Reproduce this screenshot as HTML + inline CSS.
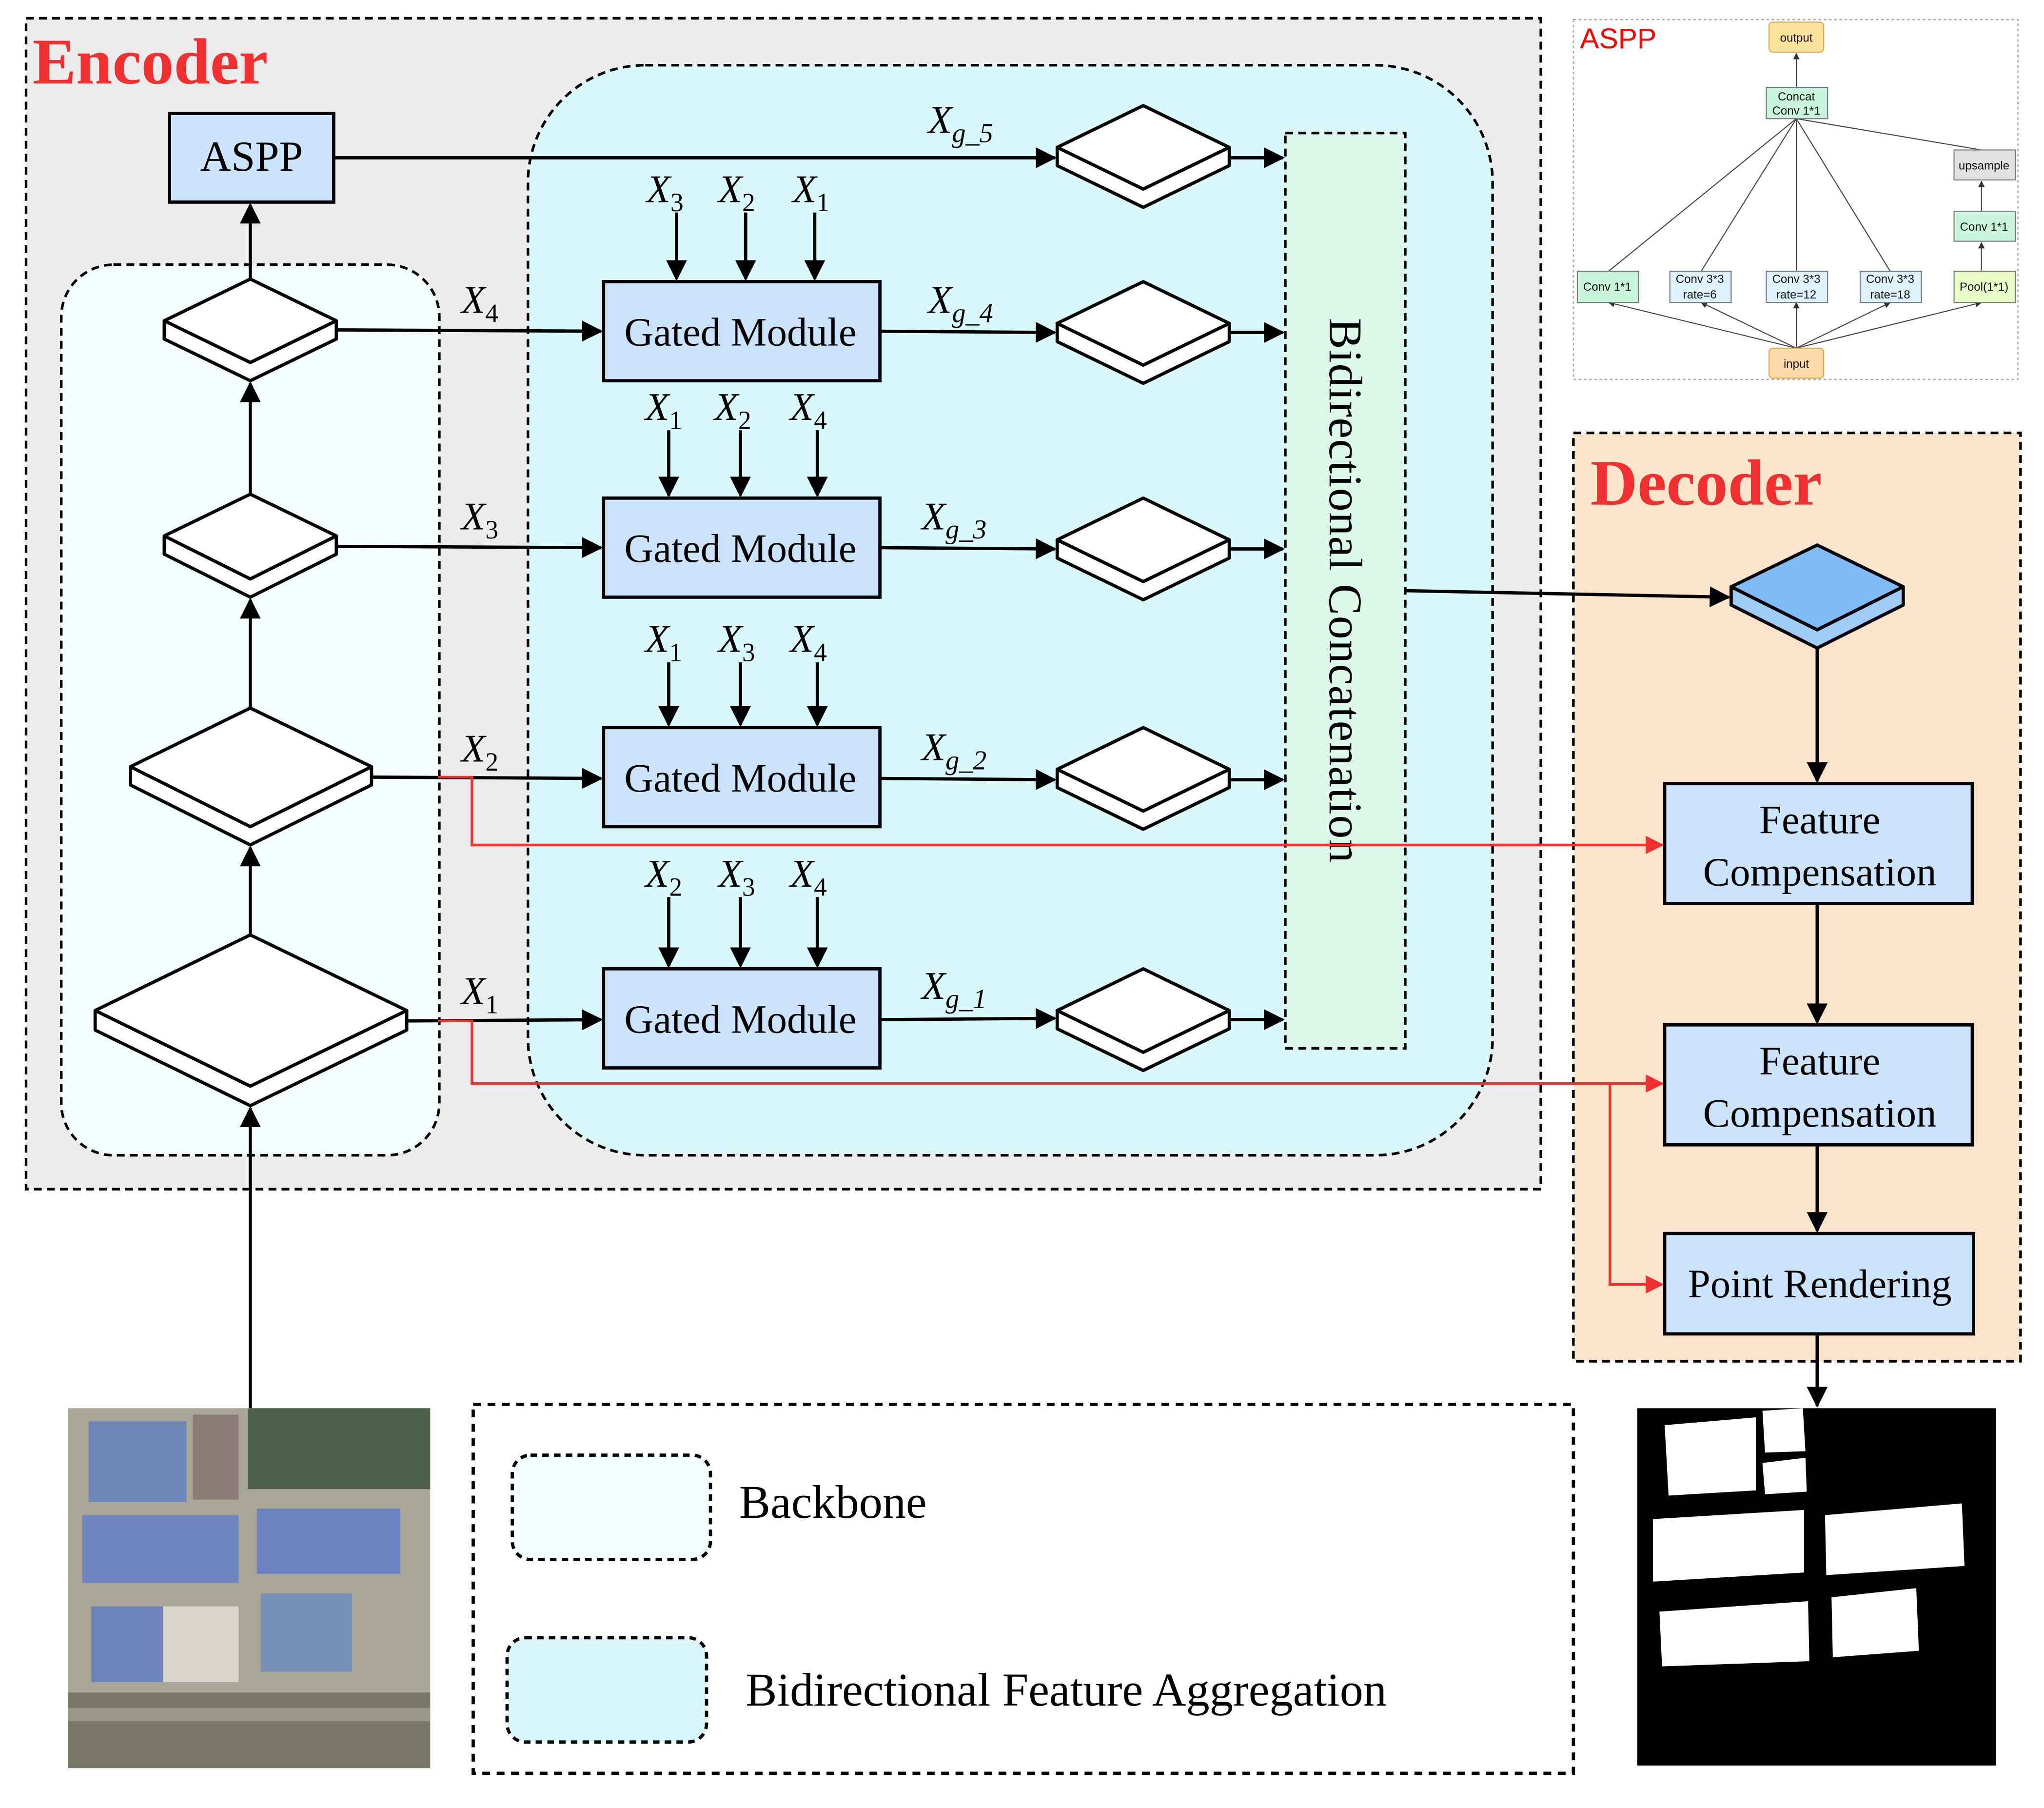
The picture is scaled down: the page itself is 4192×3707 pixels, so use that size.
<!DOCTYPE html>
<html><head><meta charset="utf-8"><style>html,body{margin:0;padding:0;background:#fff}svg{display:block}</style></head><body>
<svg width="4192" height="3707" viewBox="0 0 1568 1386.6" preserveAspectRatio="none" xmlns="http://www.w3.org/2000/svg" font-family="'Liberation Serif',serif">
<defs>
<marker id="ab" viewBox="0 0 10 10" refX="9" refY="5" markerWidth="18" markerHeight="16" markerUnits="userSpaceOnUse" orient="auto"><path d="M0,0 L10,5 L0,10 z" fill="#000"/></marker>
<marker id="ar" viewBox="0 0 10 10" refX="9" refY="5" markerWidth="16" markerHeight="14" markerUnits="userSpaceOnUse" orient="auto"><path d="M0,0 L10,5 L0,10 z" fill="#f03030"/></marker>
<marker id="as" viewBox="0 0 10 10" refX="9" refY="5" markerWidth="5" markerHeight="5" markerUnits="userSpaceOnUse" orient="auto"><path d="M0,0 L10,5 L0,10 z" fill="#333"/></marker>
</defs>
<!-- Encoder -->
<rect x="20" y="14" width="1162" height="898" fill="#ececec" stroke="#000" stroke-width="2" stroke-dasharray="6,4"/>
<text x="25" y="64" font-size="50" font-weight="bold" fill="#f03030">Encoder</text>
<rect x="47" y="203" width="290" height="683" rx="40" fill="#f2fefe" stroke="#000" stroke-width="2" stroke-dasharray="6,4"/>
<rect x="405" y="50" width="740" height="836" rx="90" fill="#d8f8fc" stroke="#000" stroke-width="2" stroke-dasharray="6,4"/>
<rect x="986" y="102" width="92" height="702" fill="#dcf8ea" stroke="#000" stroke-width="2" stroke-dasharray="6,4"/>
<text transform="translate(1020,453) rotate(90)" font-size="36" text-anchor="middle" letter-spacing="0.5">Bidirectional  Concatenation</text>
<rect x="130" y="87" width="126" height="68" fill="#cce4fb" stroke="#000" stroke-width="2.5"/>
<text x="193" y="131" font-size="33" text-anchor="middle">ASPP</text>

<!-- Decoder box -->
<rect x="1207" y="332" width="343" height="712" fill="#fde5cc" stroke="#000" stroke-width="2" stroke-dasharray="6,4"/>
<text x="1220" y="387" font-size="50" font-weight="bold" fill="#f03030">Decoder</text>

<g stroke="#000" stroke-width="2.5" fill="none" marker-end="url(#ab)">
<line x1="192" y1="1080" x2="192" y2="850"/>
<line x1="192" y1="717" x2="192" y2="650"/>
<line x1="192" y1="543" x2="192" y2="460"/>
<line x1="192" y1="379" x2="192" y2="294"/>
<line x1="192" y1="214" x2="192" y2="157"/>
<line x1="256" y1="121" x2="809" y2="121"/>
<line x1="258" y1="253" x2="461" y2="254"/>
<line x1="258" y1="419" x2="461" y2="420"/>
<line x1="285" y1="596" x2="461" y2="597"/>
<line x1="312" y1="783" x2="461" y2="782"/>
<line x1="675" y1="254" x2="809" y2="255"/>
<line x1="675" y1="420" x2="809" y2="421"/>
<line x1="675" y1="597" x2="809" y2="598"/>
<line x1="675" y1="782" x2="809" y2="781"/>
<line x1="943" y1="121" x2="984" y2="121"/>
<line x1="943" y1="255" x2="984" y2="255"/>
<line x1="943" y1="421" x2="984" y2="421"/>
<line x1="943" y1="598" x2="984" y2="598"/>
<line x1="943" y1="782" x2="984" y2="782"/>
<line x1="1078" y1="453" x2="1326" y2="458"/>
<line x1="1394" y1="497" x2="1394" y2="599"/>
<line x1="1394" y1="693" x2="1394" y2="784"/>
<line x1="1394" y1="878" x2="1394" y2="944"/>
<line x1="1394" y1="1023" x2="1394" y2="1078"/>
<line x1="519" y1="163" x2="519" y2="214"/><line x1="572" y1="163" x2="572" y2="214"/><line x1="625" y1="163" x2="625" y2="214"/>
<line x1="513" y1="330" x2="513" y2="380"/><line x1="568" y1="330" x2="568" y2="380"/><line x1="627" y1="330" x2="627" y2="380"/>
<line x1="513" y1="508" x2="513" y2="556"/><line x1="568" y1="508" x2="568" y2="556"/><line x1="627" y1="508" x2="627" y2="556"/>
<line x1="513" y1="688" x2="513" y2="741"/><line x1="568" y1="688" x2="568" y2="741"/><line x1="627" y1="688" x2="627" y2="741"/>
</g>

<!-- diamonds -->
<g stroke="#000" stroke-width="2.5" fill="#fff" stroke-linejoin="round">
<path d="M126,246 L126,260 L192,292 L258,260 L258,246 L192,278 Z"/><path d="M192,214 L258,246 L192,278 L126,246 Z"/>
<path d="M126,411 L126,425 L192,458 L258,425 L258,411 L192,444 Z"/><path d="M192,379 L258,411 L192,444 L126,411 Z"/>
<path d="M100,588 L100,602 L192,648 L285,602 L285,588 L192,634 Z"/><path d="M192,543 L285,588 L192,634 L100,588 Z"/>
<path d="M73,775 L73,790 L192,848 L312,790 L312,775 L192,833 Z"/><path d="M192,717 L312,775 L192,833 L73,775 Z"/>
<path d="M811,113 L811,127 L877,159 L943,127 L943,113 L877,145 Z"/><path d="M877,81 L943,113 L877,145 L811,113 Z"/>
<path d="M811,248 L811,262 L877,294 L943,262 L943,248 L877,280 Z"/><path d="M877,216 L943,248 L877,280 L811,248 Z"/>
<path d="M811,414 L811,428 L877,460 L943,428 L943,414 L877,446 Z"/><path d="M877,382 L943,414 L877,446 L811,414 Z"/>
<path d="M811,590 L811,604 L877,636 L943,604 L943,590 L877,622 Z"/><path d="M877,558 L943,590 L877,622 L811,590 Z"/>
<path d="M811,775 L811,789 L877,821 L943,789 L943,775 L877,807 Z"/><path d="M877,743 L943,775 L877,807 L811,775 Z"/>
</g>

<!-- gated modules -->
<g stroke="#000" stroke-width="2.5" fill="#cce4fb">
<rect x="463" y="216" width="212" height="76"/><rect x="463" y="382" width="212" height="76"/>
<rect x="463" y="558" width="212" height="76"/><rect x="463" y="743" width="212" height="76"/>
</g>
<g font-size="31" text-anchor="middle">
<text x="568" y="265">Gated Module</text><text x="568" y="431">Gated Module</text>
<text x="568" y="607">Gated Module</text><text x="568" y="792">Gated Module</text>
</g>
<g font-size="30" font-style="italic">
<text x="496" y="155">X<tspan font-size="20" dy="7" font-style="normal">3</tspan></text>
<text x="551" y="155">X<tspan font-size="20" dy="7" font-style="normal">2</tspan></text>
<text x="608" y="155">X<tspan font-size="20" dy="7" font-style="normal">1</tspan></text>
<text x="495" y="322">X<tspan font-size="20" dy="7" font-style="normal">1</tspan></text>
<text x="548" y="322">X<tspan font-size="20" dy="7" font-style="normal">2</tspan></text>
<text x="606" y="322">X<tspan font-size="20" dy="7" font-style="normal">4</tspan></text>
<text x="495" y="500">X<tspan font-size="20" dy="7" font-style="normal">1</tspan></text>
<text x="551" y="500">X<tspan font-size="20" dy="7" font-style="normal">3</tspan></text>
<text x="606" y="500">X<tspan font-size="20" dy="7" font-style="normal">4</tspan></text>
<text x="495" y="680">X<tspan font-size="20" dy="7" font-style="normal">2</tspan></text>
<text x="551" y="680">X<tspan font-size="20" dy="7" font-style="normal">3</tspan></text>
<text x="606" y="680">X<tspan font-size="20" dy="7" font-style="normal">4</tspan></text>
<text x="354" y="240">X<tspan font-size="20" dy="7" font-style="normal">4</tspan></text>
<text x="354" y="406">X<tspan font-size="20" dy="7" font-style="normal">3</tspan></text>
<text x="354" y="584">X<tspan font-size="20" dy="7" font-style="normal">2</tspan></text>
<text x="354" y="770">X<tspan font-size="20" dy="7" font-style="normal">1</tspan></text>
<text x="712" y="102">X<tspan font-size="21" dy="7">g_5</tspan></text>
<text x="712" y="240">X<tspan font-size="21" dy="7">g_4</tspan></text>
<text x="707" y="406">X<tspan font-size="21" dy="7">g_3</tspan></text>
<text x="707" y="583">X<tspan font-size="21" dy="7">g_2</tspan></text>
<text x="707" y="766">X<tspan font-size="21" dy="7">g_1</tspan></text>
</g>

<!-- Decoder content -->
<g stroke="#000" stroke-width="2.5" stroke-linejoin="round">
<path d="M1328,450 L1328,464 L1394,497 L1460,464 L1460,450 L1394,483 Z" fill="#9fccf6"/>
<path d="M1394,418 L1460,450 L1394,483 L1328,450 Z" fill="#7fbcf5"/>
</g>
<g stroke="#000" stroke-width="2.5" fill="#cce4fb">
<rect x="1277" y="601" width="236" height="92"/><rect x="1277" y="786" width="236" height="92"/><rect x="1277" y="946" width="237" height="77"/>
</g>
<g font-size="31" text-anchor="middle">
<text x="1396" y="639">Feature</text><text x="1396" y="679">Compensation</text>
<text x="1396" y="824">Feature</text><text x="1396" y="864">Compensation</text>
<text x="1396" y="995">Point Rendering</text>
</g>
<g stroke="#f03030" stroke-width="2" fill="none">
<polyline points="336,596 362,596 362,648 1275,648" marker-end="url(#ar)"/>
<polyline points="336,783 362,783 362,831 1275,831" marker-end="url(#ar)"/>
<polyline points="1235,831 1235,985 1275,985" marker-end="url(#ar)"/>
</g>

<!-- ASPP inset -->
<rect x="1207" y="15" width="341" height="276" fill="#fff" stroke="#aaa" stroke-width="1" stroke-dasharray="2,2"/>
<text x="1212" y="37" font-size="22" fill="#f00" font-family="'Liberation Sans',sans-serif">ASPP</text>
<g stroke="#444" stroke-width="0.8" fill="none">
<line x1="1378" y1="67" x2="1378" y2="41" marker-end="url(#as)"/>
<line x1="1378" y1="91" x2="1234" y2="208"/><line x1="1378" y1="91" x2="1305" y2="208"/>
<line x1="1378" y1="91" x2="1378" y2="208"/><line x1="1378" y1="91" x2="1450" y2="208"/>
<line x1="1378" y1="91" x2="1520" y2="115"/>
<line x1="1520" y1="162" x2="1520" y2="139" marker-end="url(#as)"/>
<line x1="1520" y1="208" x2="1520" y2="186" marker-end="url(#as)"/>
<line x1="1378" y1="267" x2="1234" y2="232" marker-end="url(#as)"/>
<line x1="1378" y1="267" x2="1305" y2="232" marker-end="url(#as)"/>
<line x1="1378" y1="267" x2="1378" y2="232" marker-end="url(#as)"/>
<line x1="1378" y1="267" x2="1450" y2="232" marker-end="url(#as)"/>
<line x1="1378" y1="267" x2="1520" y2="232" marker-end="url(#as)"/>
</g>
<g stroke="#777" stroke-width="0.8">
<rect x="1357" y="17" width="42" height="23" rx="3" fill="#fde29c" stroke="#d9a850"/>
<rect x="1357" y="267" width="42" height="23" rx="3" fill="#fcd9a8" stroke="#d9a850"/>
<rect x="1355" y="67" width="47" height="24" fill="#c8f5dc"/>
<rect x="1499" y="115" width="47" height="23" fill="#e2e2e2"/>
<rect x="1499" y="162" width="47" height="23" fill="#c8f5dc"/>
<rect x="1499" y="208" width="47" height="24" fill="#e8fcc8"/>
<rect x="1210" y="208" width="47" height="24" fill="#c8f5dc"/>
<rect x="1281" y="208" width="47" height="24" fill="#dff3fc"/>
<rect x="1355" y="208" width="47" height="24" fill="#dff3fc"/>
<rect x="1427" y="208" width="47" height="24" fill="#dff3fc"/>
</g>
<g font-size="9" text-anchor="middle" font-family="'Liberation Sans',sans-serif" fill="#111">
<text x="1378" y="32">output</text><text x="1378" y="282">input</text>
<text x="1378" y="77">Concat</text><text x="1378" y="88">Conv 1*1</text>
<text x="1522" y="130">upsample</text><text x="1522" y="177">Conv 1*1</text><text x="1522" y="223">Pool(1*1)</text>
<text x="1233" y="223">Conv 1*1</text>
<text x="1304" y="217">Conv 3*3</text><text x="1304" y="229">rate=6</text>
<text x="1378" y="217">Conv 3*3</text><text x="1378" y="229">rate=12</text>
<text x="1450" y="217">Conv 3*3</text><text x="1450" y="229">rate=18</text>
</g>

<!-- input image -->
<rect x="52" y="1080" width="278" height="276" fill="#a9a597"/>
<rect x="190" y="1080" width="140" height="62" fill="#4f6048"/>
<rect x="68" y="1090" width="75" height="62" fill="#6f86b8"/>
<rect x="148" y="1085" width="35" height="65" fill="#8a7a78"/>
<rect x="63" y="1162" width="120" height="52" fill="#6f86c0"/>
<rect x="197" y="1157" width="110" height="50" fill="#6a82c0"/>
<rect x="70" y="1232" width="55" height="58" fill="#6c84bc"/>
<rect x="125" y="1232" width="58" height="58" fill="#d8d6cc"/>
<rect x="200" y="1222" width="70" height="60" fill="#7890b8"/>
<rect x="52" y="1298" width="278" height="58" fill="#7a7868"/>
<rect x="52" y="1310" width="278" height="10" fill="#9a9688"/>
<!-- mask -->
<rect x="1256" y="1080" width="275" height="274" fill="#000"/>
<g fill="#fff">
<polygon points="1277,1093 1347,1087 1347,1143 1280,1147"/>
<polygon points="1352,1082 1383,1080 1385,1113 1354,1114"/>
<polygon points="1352,1122 1385,1118 1386,1144 1354,1146"/>
<polygon points="1268,1165 1384,1158 1384,1206 1268,1213"/>
<polygon points="1400,1162 1505,1153 1507,1201 1401,1208"/>
<polygon points="1273,1236 1387,1228 1388,1274 1275,1278"/>
<polygon points="1405,1225 1470,1218 1472,1266 1406,1271"/>
</g>

<!-- legend -->
<rect x="363" y="1077" width="844" height="283" fill="#fff" stroke="#000" stroke-width="2.5" stroke-dasharray="6,5"/>
<rect x="393" y="1116" width="152" height="80" rx="14" fill="#f2fefe" stroke="#000" stroke-width="2.5" stroke-dasharray="5,4"/>
<rect x="389" y="1256" width="153" height="80" rx="14" fill="#d8f8fc" stroke="#000" stroke-width="2.5" stroke-dasharray="5,4"/>
<text x="567" y="1164" font-size="36">Backbone</text>
<text x="572" y="1308" font-size="36">Bidirectional Feature Aggregation</text>
</svg>
</body></html>
